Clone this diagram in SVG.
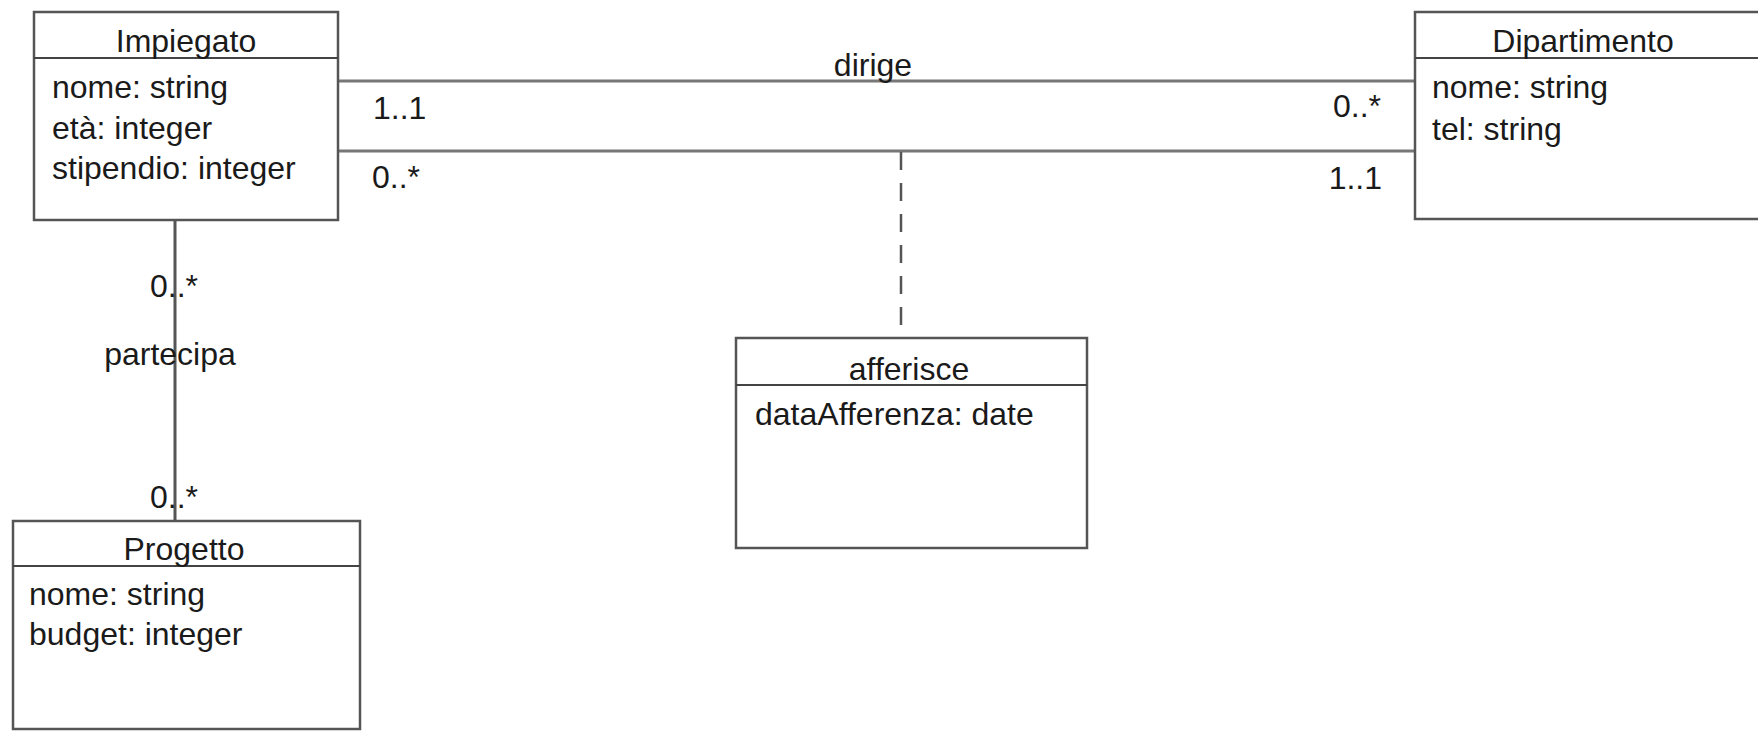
<svg xmlns="http://www.w3.org/2000/svg" width="1758" height="732" viewBox="0 0 1758 732">
<style>
.box{fill:#fff;stroke:#555;stroke-width:2.5}
.sep{stroke:#444;stroke-width:2}
.t{font-family:"Liberation Sans",Arial,Helvetica,sans-serif;font-size:32px;fill:#1a1a1a}
.c{text-anchor:middle}
.e{text-anchor:end}
.assoc{stroke:#777;stroke-width:3;fill:none}
.dash{stroke:#555;stroke-width:2.5;stroke-dasharray:18 13;fill:none}
</style>
<rect width="1758" height="732" fill="#fff"/>
<g id="connectors">
<line class="assoc" x1="338" y1="81" x2="1415" y2="81"/>
<line class="assoc" x1="338" y1="151" x2="1415" y2="151"/>
<line class="assoc" x1="175" y1="220" x2="175" y2="521" style="stroke:#555"/>
<line class="dash" x1="901" y1="152" x2="901" y2="338"/>
<text class="t c" x="873" y="76">dirige</text>
<text class="t" x="373" y="119">1..1</text>
<text class="t" x="372" y="188">0..*</text>
<text class="t e" x="1381" y="117">0..*</text>
<text class="t e" x="1382" y="189">1..1</text>
<text class="t" x="150" y="297">0..*</text>
<text class="t c" x="170" y="365">partecipa</text>
<text class="t" x="150" y="508">0..*</text>
</g>
<g id="Impiegato">
<rect class="box" x="34" y="12" width="304" height="208"/>
<line class="sep" x1="34" y1="58" x2="338" y2="58"/>
<text class="t c" x="186" y="52">Impiegato</text>
<text class="t" x="52" y="98">nome: string</text>
<text class="t" x="52" y="139">età: integer</text>
<text class="t" x="52" y="179">stipendio: integer</text>
</g>
<g id="Dipartimento">
<rect class="box" x="1415" y="12" width="400" height="207"/>
<line class="sep" x1="1415" y1="58" x2="1815" y2="58"/>
<text class="t c" x="1583" y="52">Dipartimento</text>
<text class="t" x="1432" y="98">nome: string</text>
<text class="t" x="1432" y="140">tel: string</text>
</g>
<g id="Progetto">
<rect class="box" x="13" y="521" width="347" height="208"/>
<line class="sep" x1="13" y1="566" x2="360" y2="566"/>
<text class="t c" x="184" y="560">Progetto</text>
<text class="t" x="29" y="605">nome: string</text>
<text class="t" x="29" y="645">budget: integer</text>
</g>
<g id="afferisce">
<rect class="box" x="736" y="338" width="351" height="210"/>
<line class="sep" x1="736" y1="385" x2="1087" y2="385"/>
<text class="t c" x="909" y="380">afferisce</text>
<text class="t" x="755" y="425">dataAfferenza: date</text>
</g>
</svg>
